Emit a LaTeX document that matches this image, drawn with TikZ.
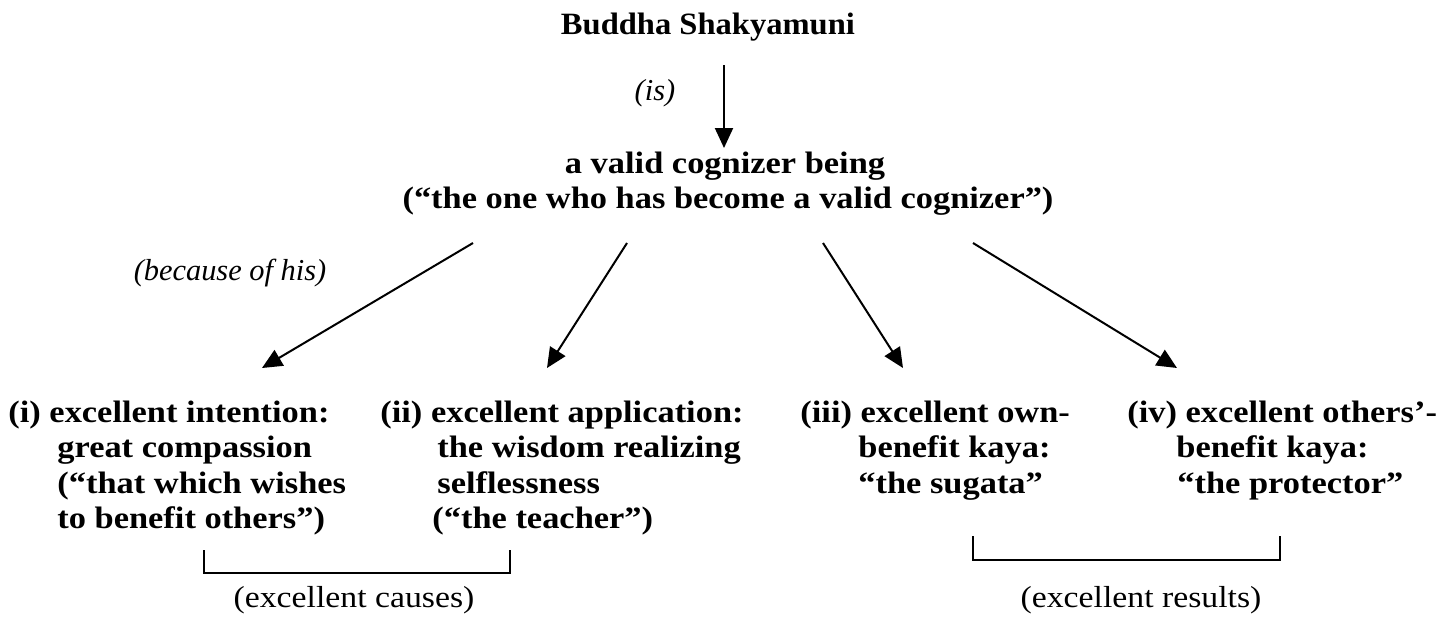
\documentclass[tikz,border=0pt]{standalone}
\usepackage{fontspec}
\setmainfont{Liberation Serif}[FakeStretch=1.11]
\newfontfamily\titlefam{Liberation Serif}[FakeStretch=1.05]
\newfontfamily\itfam{Liberation Serif}
\usetikzlibrary{arrows.meta}
\begin{document}
\begin{tikzpicture}[x=0.5pt,y=-0.5pt,
  bt/.style={font=\fontsize{15.5}{17.5}\selectfont\bfseries, inner sep=0pt},
  ln/.style={bt, anchor=base west},
  ctr/.style={bt, anchor=base},
  itl/.style={font=\itfam\itshape\fontsize{15.2}{17.5}\selectfont, inner sep=0pt, anchor=base},
  rg/.style={font=\fontsize{15.2}{17.5}\selectfont, inner sep=0pt, anchor=base},
  arr/.style={line width=1pt, -{Triangle[length=10pt,width=9pt]}},
  brk/.style={line width=1pt}]
\useasboundingbox[fill=white] (0,0) rectangle (1456,616);

% top
\node[ctr, font=\titlefam\bfseries\fontsize{15.5}{17.5}\selectfont] (title) at (708,34) {Buddha Shakyamuni};
\node[itl] (is) at (655,100) {(is)};
\node[ctr] (mid1) at (725,173) {a valid cognizer being};
\node[ctr] (mid2) at (728,208) {(“the one who has become a valid cognizer”)};
\node[itl] (because) at (230,280) {(because of his)};

\coordinate (t0) at (724,65);
\coordinate (t1) at (724,148);
\draw[arr] (t0) -- (t1);

\coordinate (a1s) at (473,243); \coordinate (a1e) at (262,368);
\coordinate (a2s) at (627,243); \coordinate (a2e) at (547,368);
\coordinate (a3s) at (823,243); \coordinate (a3e) at (903,368);
\coordinate (a4s) at (973,243); \coordinate (a4e) at (1177,368);
\draw[arr] (a1s) -- (a1e);
\draw[arr] (a2s) -- (a2e);
\draw[arr] (a3s) -- (a3e);
\draw[arr] (a4s) -- (a4e);

% (i)
\node[ln] (i1) at (8,422) {(i) excellent intention:};
\node[ln] (i2) at (57,457) {great compassion};
\node[ln] (i3) at (57,493) {(“that which wishes};
\node[ln] (i4) at (57,528) {to benefit others”)};
% (ii)
\node[ln] (ii1) at (380,422) {(ii) excellent application:};
\node[ln] (ii2) at (437,457) {the wisdom realizing};
\node[ln] (ii3) at (437,493) {selflessness};
\node[ln] (ii4) at (432,528) {(“the teacher”)};
% (iii)
\node[ln] (iii1) at (800,422) {(iii) excellent own-};
\node[ln] (iii2) at (858,457) {benefit kaya:};
\node[ln] (iii3) at (858,493) {“the sugata”};
% (iv)
\node[ln] (iv1) at (1127,422) {(iv) excellent others’-};
\node[ln] (iv2) at (1176,457) {benefit kaya:};
\node[ln] (iv3) at (1177,493) {“the protector”};

% brackets
\coordinate (b1a) at (204,550); \coordinate (b1b) at (204,573);
\coordinate (b1c) at (510,573); \coordinate (b1d) at (510,550);
\draw[brk] (b1a) -- (b1b) -- (b1c) -- (b1d);
\coordinate (b2a) at (973,536); \coordinate (b2b) at (973,560);
\coordinate (b2c) at (1280,560); \coordinate (b2d) at (1280,536);
\draw[brk] (b2a) -- (b2b) -- (b2c) -- (b2d);

\node[rg] (causes) at (354,607) {(excellent causes)};
\node[rg] (results) at (1141,607) {(excellent results)};
\end{tikzpicture}
\end{document}
